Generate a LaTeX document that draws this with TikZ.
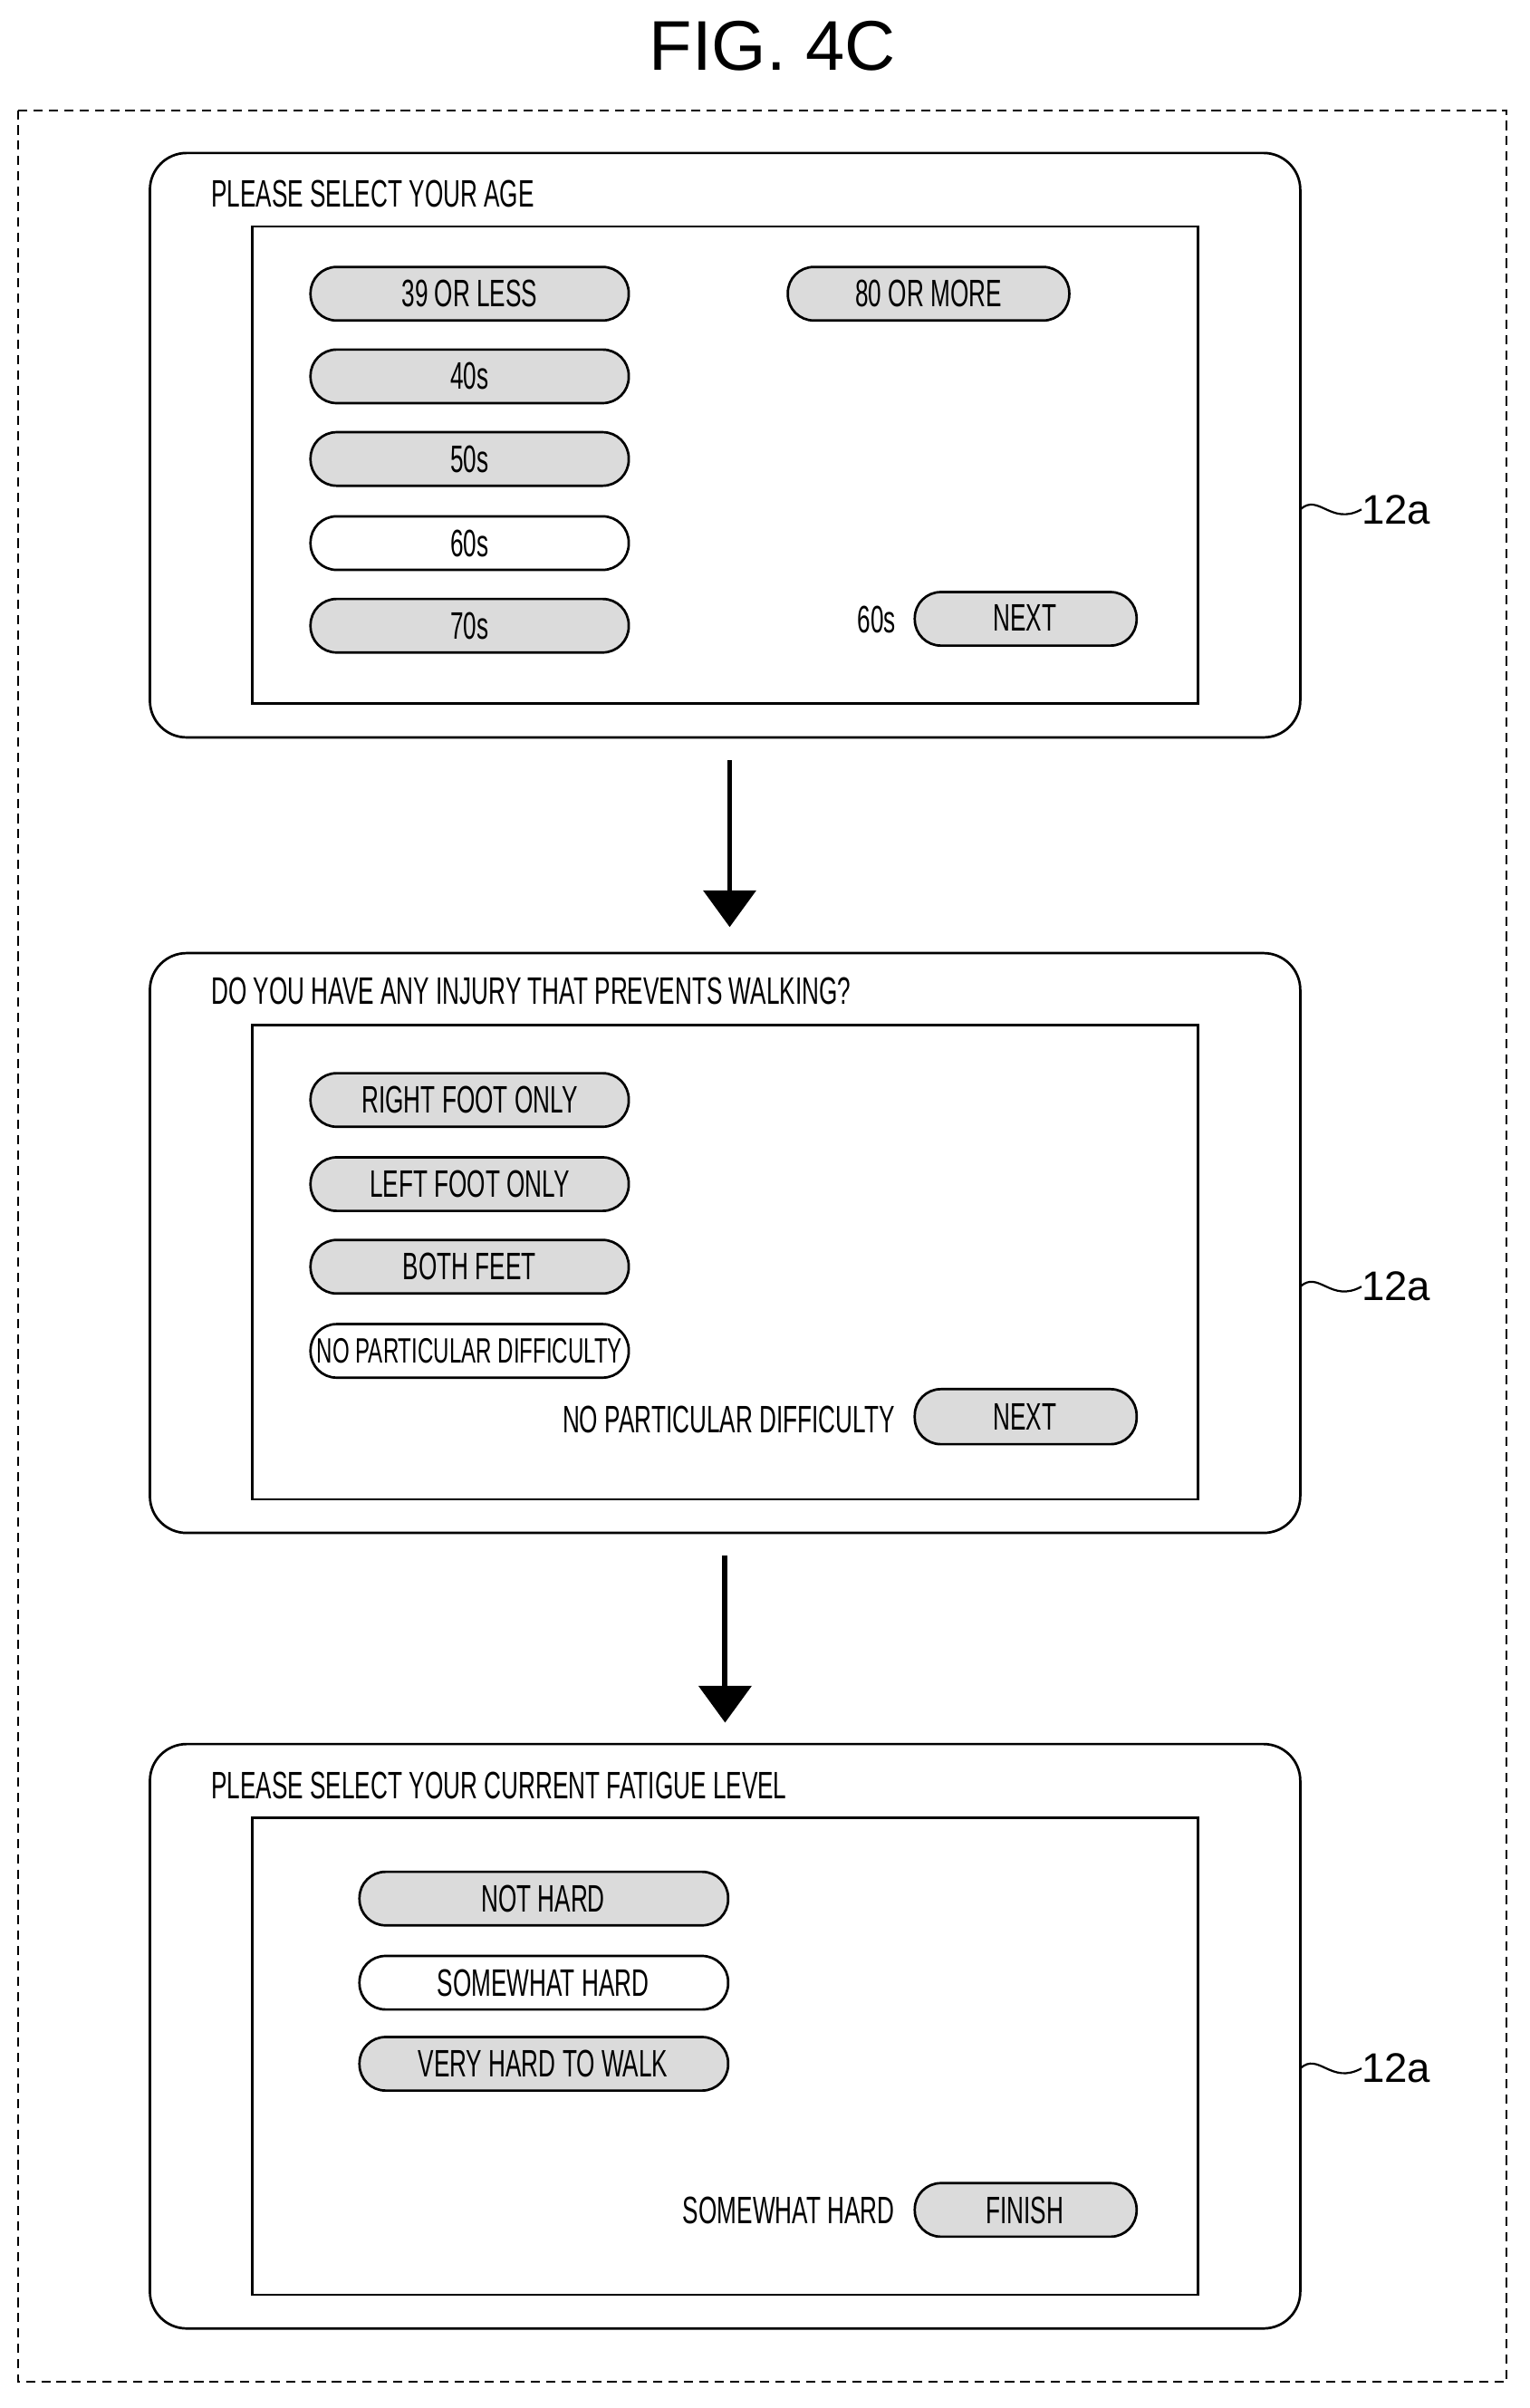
\documentclass[tikz,border=0pt]{standalone}
\usetikzlibrary{arrows.meta}
\usepackage{fontspec}
\setmainfont{Liberation Sans}
\newfontfamily\cond[FakeStretch=0.62]{Liberation Sans}
\begin{document}
\begin{tikzpicture}[x=1pt,y=-1pt,
 panel/.style={draw,line width=1.6pt,rounded corners=24pt},
 inner/.style={draw,line width=1.6pt},
 btn/.style={draw,line width=1.6pt,rounded corners=17pt,fill=gray!28},
 wbtn/.style={draw,line width=1.6pt,rounded corners=17pt,fill=white},
 txt/.style={font=\cond\fontsize{25}{25}\selectfont,inner sep=0pt},
 stxt/.style={font=\cond\fontsize{23}{23}\selectfont,inner sep=0pt},
 lab/.style={font=\fontsize{27}{27}\selectfont,inner sep=0pt,anchor=west},
 arr/.style={line width=3.5pt,-{Triangle[length=24pt,width=34pt]}},
 wave/.style={line width=1.3pt}]
\useasboundingbox (0,0) rectangle (1000,1574);
\node[font=\fontsize{46}{46}\selectfont] (title) at (505,30) {FIG. 4C};
\draw[dash pattern=on 6pt off 4pt,line width=1.1pt] (12,72) rectangle (985,1557);
% panel 1
\draw[panel] (98,100) rectangle (850,482);
\draw[inner] (165,148) rectangle (783,460);
\node[txt,anchor=west] (t1) at (138,127) {PLEASE SELECT YOUR AGE};
\foreach \y/\t/\s in {192/39 OR LESS/btn,246/40s/btn,300/50s/btn,355/60s/wbtn,409/70s/btn}{
 \draw[\s] (203,\y-17.5) rectangle (411,\y+17.5);
 \node[txt] at (307,\y) {\t};}
\draw[btn] (515,174.5) rectangle (699,209.5); \node[txt] (b80) at (607,192) {80 OR MORE};
\node[txt] (s1) at (573,405) {60s};
\draw[btn] (598,387) rectangle (743,422); \node[txt] (n1) at (670,404) {NEXT};
\coordinate (p1) at (850,333);
\node[lab] (l1) at (890,333) {12a};
\draw[wave] (p1) .. controls (862,322) and (870,344) .. (l1.west);
% arrow 1
\coordinate (a1s) at (477,497); \coordinate (a1e) at (477,606);
\draw[arr] (a1s) -- (a1e);
% panel 2
\draw[panel] (98,623) rectangle (850,1002);
\draw[inner] (165,670) rectangle (783,980);
\node[txt,anchor=west] (t2) at (138,648) {DO YOU HAVE ANY INJURY THAT PREVENTS WALKING?};
\foreach \y/\t/\s in {719/RIGHT FOOT ONLY/btn,774/LEFT FOOT ONLY/btn,828/BOTH FEET/btn}{
 \draw[\s] (203,\y-17.5) rectangle (411,\y+17.5);
 \node[txt] at (307,\y) {\t};}
\draw[wbtn] (203,865.5) rectangle (411,900.5);
\node[stxt] (nd) at (307,883) {NO PARTICULAR DIFFICULTY};
\node[txt,anchor=east] (s2) at (585,928) {NO PARTICULAR DIFFICULTY};
\draw[btn] (598,908) rectangle (743,944); \node[txt] (n2) at (670,926) {NEXT};
\coordinate (p2) at (850,841);
\node[lab] (l2) at (890,841) {12a};
\draw[wave] (p2) .. controls (862,830) and (870,852) .. (l2.west);
\coordinate (a2s) at (474,1017); \coordinate (a2e) at (474,1126);
\draw[arr] (a2s) -- (a2e);
% panel 3
\draw[panel] (98,1140) rectangle (850,1522);
\draw[inner] (165,1188) rectangle (783,1500);
\node[txt,anchor=west] (t3) at (138,1167) {PLEASE SELECT YOUR CURRENT FATIGUE LEVEL};
\foreach \y/\t/\s in {1241/NOT HARD/btn,1296/SOMEWHAT HARD/wbtn,1349/VERY HARD TO WALK/btn}{
 \draw[\s] (235,\y-17.5) rectangle (476,\y+17.5);
 \node[txt] at (355,\y) {\t};}
\node[txt,anchor=east] (s3) at (585,1445) {SOMEWHAT HARD};
\draw[btn] (598,1427) rectangle (743,1462); \node[txt] (n3) at (670,1445) {FINISH};
\coordinate (p3) at (850,1352);
\node[lab] (l3) at (890,1352) {12a};
\draw[wave] (p3) .. controls (862,1341) and (870,1363) .. (l3.west);
\end{tikzpicture}
\end{document}
